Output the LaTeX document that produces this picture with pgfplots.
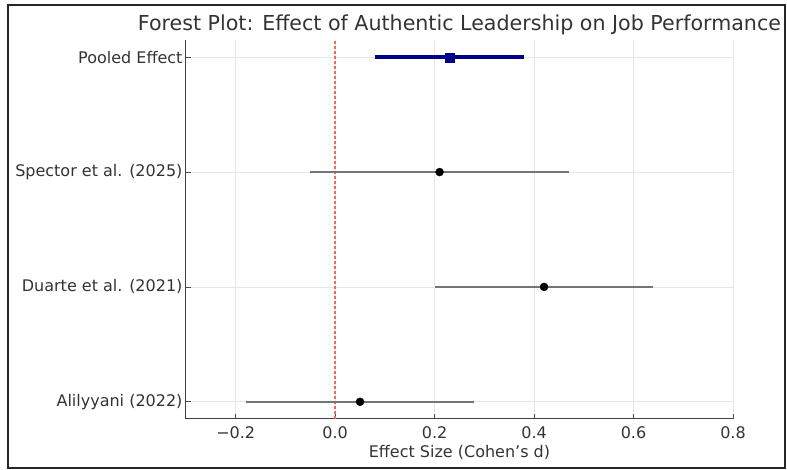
\documentclass[border=0pt]{standalone}
\usepackage{pgfplots}
\pgfplotsset{compat=1.18}
\usepackage{pgfplotstable}
\usepackage{fontspec}
\setmainfont{DejaVu Sans}
\definecolor{txt}{HTML}{333333}
\definecolor{gridc}{HTML}{E6E6E6}
\definecolor{ebgray}{HTML}{757575}
\definecolor{pooled}{HTML}{00008B}
\definecolor{refred}{RGB}{236,110,90}

\pgfplotstableread{
x    y  ep    em
0.05 0  0.23  0.23
0.42 1  0.22  0.22
0.21 2  0.26  0.26
}\studies
\pgfplotstableread{
x    y  ep    em
0.23 3  0.15  0.15
}\pooledtab

\begin{document}
\begin{tikzpicture}
\useasboundingbox (-186pt,-51pt) rectangle (601pt,419pt);
\draw[black!85, line width=1.6pt] (-178pt,-49pt) rectangle (599pt,414pt);
\begin{axis}[
  at={(0pt,0pt)}, anchor=south west,
  scale only axis,
  width=547pt, height=379pt,
  xmin=-0.3, xmax=0.8,
  ymin=-0.15, ymax=3.15,
  xtick={-0.2,0,0.2,0.4,0.6,0.8},
  xticklabels={−0.2,0.0,0.2,0.4,0.6,0.8},
  ytick={0,1,2,3},
  yticklabels={Alilyyani (2022),Duarte et al. (2021),Spector et al. (2025),Pooled Effect},
  axis x line*=bottom, axis y line*=left,
  axis line style={-, black!75, line width=1pt},
  tick align=inside,
  major tick length=5pt,
  tick style={black!70, line width=0.8pt},
  grid=major,
  major grid style={gridc, line width=0.8pt},
  /pgf/number format/assume math mode=true,
  ticklabel style={font=\fontsize{16}{19}\selectfont, text=txt},
  xticklabel style={yshift=-4pt},
  xlabel={Effect Size (Cohen's d)},
  xlabel style={font=\fontsize{16}{19}\selectfont, text=txt, at={(axis description cs:0.5,0)}, anchor=base, yshift=-39pt},
  title={Forest Plot: Effect of Authentic Leadership on Job Performance},
  title style={font=\fontsize{20.6}{24}\selectfont, text=txt, at={(axis description cs:0.5,1)}, anchor=base, yshift=3pt},
  clip=false,
]
\addplot[draw=refred, line width=1.5pt, dash pattern=on 3pt off 2pt] coordinates {(0,-0.15) (0,3.15)};
\addplot[only marks, mark=*, mark size=4pt, mark options={fill=black, draw=black},
  error bars/.cd, x dir=both, x explicit, error mark=none,
  error bar style={ebgray, line width=2.2pt}]
  table[x=x, y=y, x error plus=ep, x error minus=em] {\studies};
\addplot[only marks, mark=square*, mark size=4.5pt, mark options={fill=pooled, draw=pooled},
  error bars/.cd, x dir=both, x explicit, error mark=none,
  error bar style={pooled, line width=3.6pt}]
  table[x=x, y=y, x error plus=ep, x error minus=em] {\pooledtab};
\end{axis}
\end{tikzpicture}
\end{document}
